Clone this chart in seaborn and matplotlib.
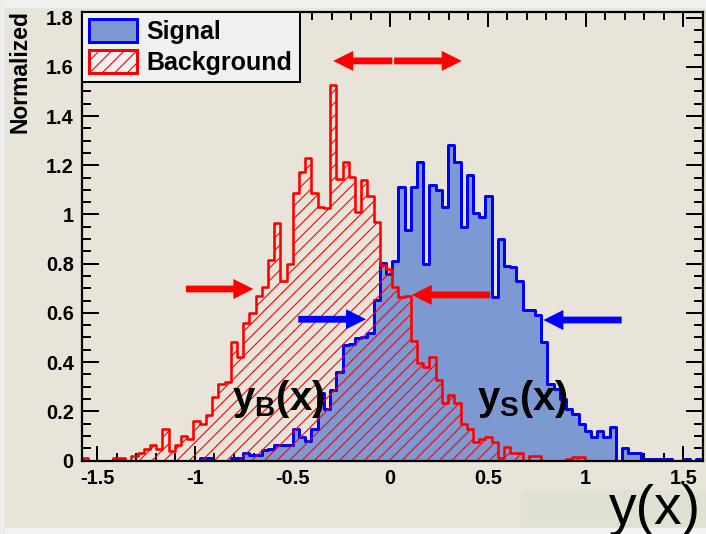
import numpy as np
import pandas as pd
import matplotlib
matplotlib.use("Agg")
import matplotlib.pyplot as plt
import seaborn as sns
from matplotlib.patches import Patch, Rectangle
from matplotlib.ticker import FixedLocator, FixedFormatter, MultipleLocator
from matplotlib.font_manager import FontProperties

# ---- binning of the classifier output y(x) ----
x_min, x_max, n_bins = -1.58, 1.60, 100

# normalised signal distribution, one value per bin
signal = [
    0, 0, 0, 0, 0, 0.005, 0.005, 0, 0, 0,
    0, 0, 0, 0, 0, 0, 0, 0, 0, 0.01,
    0.01, 0, 0, 0, 0.01, 0.01, 0.032, 0.022, 0.022, 0.043,
    0.045, 0.063, 0.063, 0.063, 0.127, 0.094, 0.081, 0.127, 0.276, 0.208,
    0.287, 0.361, 0.47, 0.473, 0.497, 0.50, 0.52, 0.652, 0.804, 0.76,
    0.81, 1.113, 0.937, 1.113, 1.215, 0.80, 1.12, 1.10, 1.032, 1.283,
    1.215, 0.95, 1.16, 1.005, 0.991, 1.075, 0.666, 0.899, 0.79, 0.787,
    0.73, 0.612, 0.612, 0.59, 0.48, 0.31, 0.29, 0.25, 0.21, 0.19,
    0.15, 0.12, 0.097, 0.12, 0.095, 0.137, 0, 0.05, 0.029, 0.029,
    0.006, 0.006, 0.006, 0.006, 0.006, 0, 0, 0.006, 0, 0.008,
]

# normalised background distribution, one value per bin
background = [
    0.01, 0, 0, 0, 0, 0.01, 0.01, 0, 0.02, 0.03,
    0.045, 0.063, 0.045, 0.13, 0.04, 0.063, 0.10, 0.088, 0.16, 0.148,
    0.185, 0.257, 0.31, 0.32, 0.483, 0.42, 0.56, 0.60, 0.667, 0.707,
    0.815, 0.967, 0.73, 0.80, 1.086, 1.174, 1.228, 1.089, 1.032, 1.025,
    1.526, 1.143, 1.215, 1.151, 1.011, 1.14, 1.075, 0.971, 0.795, 0.777,
    0.704, 0.663, 0.67, 0.485, 0.397, 0.38, 0.42, 0.327, 0.235, 0.266,
    0.235, 0.148, 0.127, 0.076, 0.086, 0.097, 0.076, 0.01, 0.054, 0.032,
    0.032, 0, 0.018, 0.018, 0, 0, 0, 0, 0.005, 0.015,
    0.015, 0, 0, 0, 0, 0, 0, 0, 0, 0,
    0, 0, 0, 0, 0, 0, 0, 0, 0, 0,
]

x_ticks = [-1.5, -1, -0.5, 0, 0.5, 1, 1.5]
x_tick_labels = ["-1.5", "-1", "-0.5", "0", "0.5", "1", "1.5"]
y_ticks = [0, 0.2, 0.4, 0.6, 0.8, 1.0, 1.2, 1.4, 1.6, 1.8]
y_tick_labels = ["0", "0.2", "0.4", "0.6", "0.8", "1", "1.2", "1.4", "1.6", "1.8"]
y_max = 1.824

# ---- style ----
DPI = 150
W, H = 706, 534


def pt(px):
    """pixels -> points at the output resolution"""
    return px * 72.0 / DPI


BG = "#E8E4D9"
LEG_BG = "#F0F0F0"
SIG_FILL = "#7D99D1"
SIG_LINE = "#0000FF"
BKG_LINE = "#FF0000"
HATCH = "////"

plt.rcParams["font.family"] = ["Liberation Sans", "DejaVu Sans"]
plt.rcParams["mathtext.fontset"] = "custom"
plt.rcParams["mathtext.bf"] = "Liberation Sans:bold"
plt.rcParams["mathtext.rm"] = "Liberation Sans"
plt.rcParams["hatch.linewidth"] = pt(1.1)
plt.rcParams["hatch.color"] = BKG_LINE

fig = plt.figure(figsize=(W / DPI, H / DPI), dpi=DPI, facecolor=BG)


def canvas_band(x0, y0, x1, y1, color):
    """flat band on the canvas, given in pixels from the top-left corner"""
    fig.patches.append(Rectangle((x0 / W, 1 - y1 / H), (x1 - x0) / W, (y1 - y0) / H,
                                 transform=fig.transFigure, facecolor=color,
                                 edgecolor="none", zorder=-5))


canvas_band(0, 0, W, 8, "#F1F1EF")        # top edge
canvas_band(0, 528, W, H, "#F3F3F2")      # bottom edge
canvas_band(0, 0, 5, H, "#EDEDEB")        # left edge
canvas_band(521, 490, W, 527, "#DFE1D5")  # panel behind the axis title

ax_left, ax_right, ax_top, ax_bottom = 81.7, 702.7, 11.7, 460.5
ax = fig.add_axes([ax_left / W, (H - ax_bottom) / H,
                   (ax_right - ax_left) / W, (ax_bottom - ax_top) / H])
ax.set_facecolor(BG)

edges = np.linspace(x_min, x_max, n_bins + 1)
centers = 0.5 * (edges[:-1] + edges[1:])
df = pd.DataFrame({"y": centers, "signal": signal, "background": background})

sns.histplot(data=df, x="y", weights="signal", bins=n_bins, binrange=(x_min, x_max),
             element="step", fill=True, color=SIG_LINE, facecolor=SIG_FILL,
             edgecolor=SIG_LINE, alpha=1, linewidth=pt(3), ax=ax, zorder=2)
sns.histplot(data=df, x="y", weights="background", bins=n_bins, binrange=(x_min, x_max),
             element="step", fill=True, color=BKG_LINE, facecolor="none",
             edgecolor=BKG_LINE, hatch=HATCH, alpha=1, linewidth=pt(2.6), ax=ax, zorder=3)

ax.set_xlim(x_min, x_max)
ax.set_ylim(0, y_max)

tick_font = FontProperties(family="Liberation Sans", weight="bold", size=9.6)
ax.xaxis.set_major_locator(FixedLocator(x_ticks))
ax.xaxis.set_major_formatter(FixedFormatter(x_tick_labels))
ax.xaxis.set_minor_locator(MultipleLocator(0.1))
ax.yaxis.set_major_locator(FixedLocator(y_ticks))
ax.yaxis.set_major_formatter(FixedFormatter(y_tick_labels))
ax.yaxis.set_minor_locator(MultipleLocator(0.05))

ax.tick_params(axis="x", which="major", direction="in", length=pt(15), width=pt(2),
               top=True, bottom=True, pad=pt(9), colors="black")
ax.tick_params(axis="x", which="minor", direction="in", length=pt(7.7), width=pt(2),
               top=True, bottom=True)
ax.tick_params(axis="y", which="major", direction="in", length=pt(17), width=pt(2),
               left=True, right=True, pad=pt(8), colors="black")
ax.tick_params(axis="y", which="minor", direction="in", length=pt(9), width=pt(2),
               left=True, right=True)
for lab in ax.get_xticklabels() + ax.get_yticklabels():
    lab.set_fontproperties(tick_font)

for sp in ax.spines.values():
    sp.set_linewidth(pt(2.2))
    sp.set_color("black")
    sp.set_zorder(6)

# axis titles
ax.set_ylabel("Normalized", fontsize=11, fontweight="bold", rotation=90,
              rotation_mode="default", ha="center", va="top")
ax.yaxis.set_label_coords((20 - ax_left) / (ax_right - ax_left),
                          (ax_bottom - 10) / (ax_bottom - ax_top))
ax.set_xlabel("y(x)", fontsize=26.5, ha="left", va="baseline")
ax.xaxis.set_label_coords((609 - ax_left) / (ax_right - ax_left),
                          (ax_bottom - 523.5) / (ax_bottom - ax_top))

# legend
handles = [
    Patch(facecolor=SIG_FILL, edgecolor=SIG_LINE, linewidth=pt(3), label="Signal"),
    Patch(facecolor="none", edgecolor=BKG_LINE, hatch=HATCH, linewidth=pt(3),
          label="Background"),
]
leg = ax.legend(handles=handles, loc="upper left", bbox_to_anchor=(0, 1),
                borderaxespad=0, frameon=True, fancybox=False,
                prop=FontProperties(family="Liberation Sans", weight="bold", size=12),
                handlelength=1.9, handleheight=1.0, handletextpad=0.4,
                labelspacing=0.25, borderpad=0.3, facecolor=LEG_BG,
                edgecolor="black", framealpha=1)
leg.get_frame().set_linewidth(pt(2))
leg.set_zorder(7)


# arrows marking the distribution widths
def arrow(tail, tip, color):
    ax.annotate("", xy=tip, xytext=tail, xycoords="data", textcoords="data",
                arrowprops=dict(arrowstyle="simple,head_length=1.0,head_width=1.0,tail_width=0.34",
                                mutation_scale=pt(20), color=color, lw=0,
                                shrinkA=0, shrinkB=0),
                zorder=8)


arrow((0.010, 1.624), (-0.292, 1.624), BKG_LINE)
arrow((0.020, 1.624), (0.366, 1.624), BKG_LINE)
arrow((-1.046, 0.697), (-0.701, 0.697), BKG_LINE)
arrow((0.511, 0.673), (0.110, 0.673), BKG_LINE)
arrow((-0.471, 0.574), (-0.124, 0.574), SIG_LINE)
arrow((1.185, 0.571), (0.784, 0.571), SIG_LINE)

ax.text(-0.810, 0.205, r"$\mathbf{y_{B}(x)}$", fontsize=19.2, color="black",
        ha="left", va="baseline", zorder=9)
ax.text(0.444, 0.205, r"$\mathbf{y_{S}(x)}$", fontsize=19.2, color="black",
        ha="left", va="baseline", zorder=9)

fig.savefig("out.png", dpi=DPI, facecolor=BG)
